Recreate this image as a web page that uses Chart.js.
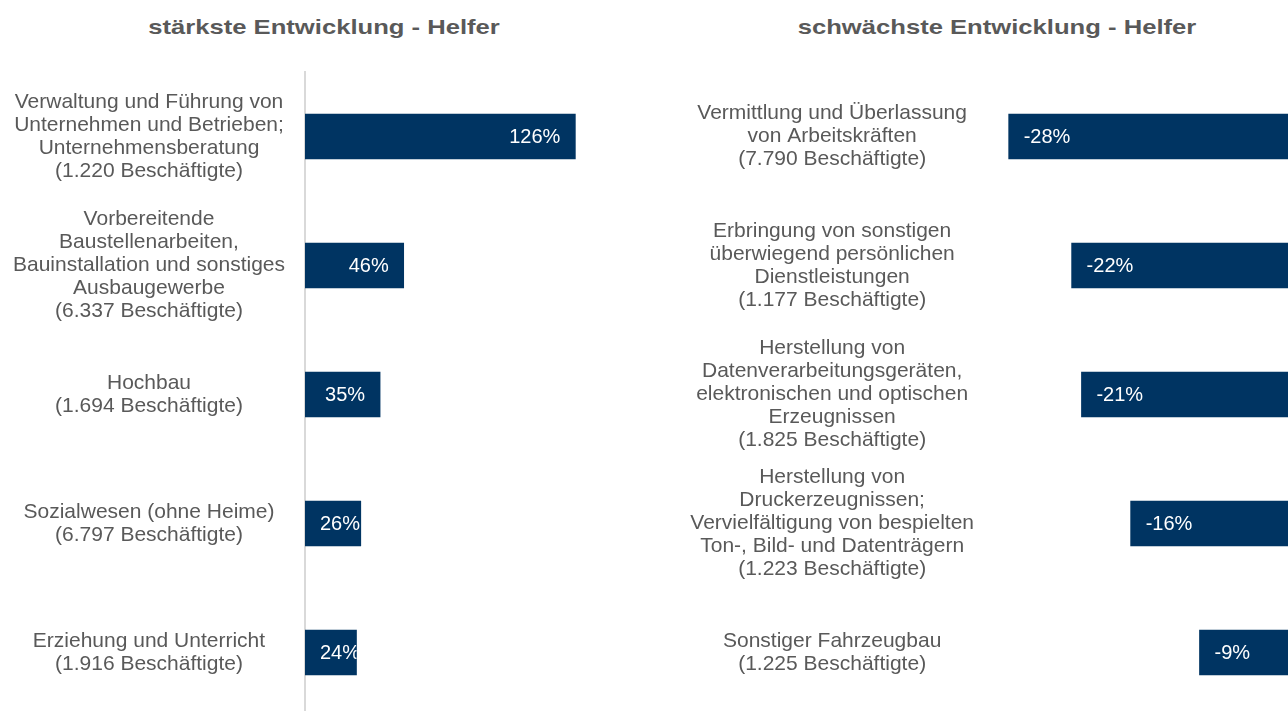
<!DOCTYPE html>
<html>
<head>
<meta charset="utf-8">
<script src="https://cdn.jsdelivr.net/npm/chart.js@4.4.1/dist/chart.umd.min.js"></script>
<style>
  body { margin: 0; background: #fff; width: 1288px; height: 711px; overflow: hidden; position: relative; font-family: "Liberation Sans", Arial, sans-serif; }
  .title { position: absolute; top: 14px; font-weight: bold; font-size: 21px; line-height: 26px; color: #595959; text-align: center; transform: scaleX(1.22); }
  #t1 { left: 124px; width: 400px; }
  #t2 { left: 797px; width: 400px; }
  #c1 { position: absolute; left: 0; top: 1px; }
  #c2 { position: absolute; left: 640px; top: 1px; }
</style>
</head>
<body>
<div class="title" id="t1">stärkste Entwicklung - Helfer</div>
<div class="title" id="t2">schwächste Entwicklung - Helfer</div>
<canvas id="c1" width="640" height="716"></canvas>
<canvas id="c2" width="648" height="716"></canvas>
<script>
const topLabels = [
    ['Verwaltung und Führung von', 'Unternehmen und Betrieben;', 'Unternehmensberatung', '(1.220 Beschäftigte)'],
    ['Vorbereitende', 'Baustellenarbeiten,', 'Bauinstallation und sonstiges', 'Ausbaugewerbe', '(6.337 Beschäftigte)'],
    ['Hochbau', '(1.694 Beschäftigte)'],
    ['Sozialwesen (ohne Heime)', '(6.797 Beschäftigte)'],
    ['Erziehung und Unterricht', '(1.916 Beschäftigte)']
];
const topValues = [126, 46, 35, 26, 24];

const lowLabels = [
    ['Vermittlung und Überlassung', 'von Arbeitskräften', '(7.790 Beschäftigte)'],
    ['Erbringung von sonstigen', 'überwiegend persönlichen', 'Dienstleistungen', '(1.177 Beschäftigte)'],
    ['Herstellung von', 'Datenverarbeitungsgeräten,', 'elektronischen und optischen', 'Erzeugnissen', '(1.825 Beschäftigte)'],
    ['Herstellung von', 'Druckerzeugnissen;', 'Vervielfältigung von bespielten', 'Ton-, Bild- und Datenträgern', '(1.223 Beschäftigte)'],
    ['Sonstiger Fahrzeugbau', '(1.225 Beschäftigte)']
];
const lowValues = [-28.4, -22, -21, -16, -9];

const barColor = '#003462';
const textColor = '#595959';
const font = '"Liberation Sans", Arial, sans-serif';

// value labels inside the bars, clipped to the bar like in the original
const valueLabels = {
    id: 'valueLabels',
    afterDatasetsDraw(chart) {
        const ctx = chart.ctx;
        const meta = chart.getDatasetMeta(0);
        const vals = chart.data.datasets[0].data;
        ctx.save();
        ctx.font = '20px ' + font;
        ctx.fillStyle = '#ffffff';
        ctx.textBaseline = 'middle';
        meta.data.forEach((bar, i) => {
            const left = Math.min(bar.x, bar.base);
            const right = Math.max(bar.x, bar.base);
            const txt = Math.round(vals[i]) + '%';
            const w = ctx.measureText(txt).width;
            let x;
            if (vals[i] >= 0) {
                x = Math.max(left + 15, right - 15 - w);
            } else {
                x = left + 15;
            }
            ctx.save();
            ctx.beginPath();
            ctx.rect(left, bar.y - 30, right - left, 60);
            ctx.clip();
            ctx.textAlign = 'left';
            ctx.fillText(txt, x, bar.y + 1);
            ctx.restore();
        });
        ctx.restore();
    }
};

function makeChart(id, labels, values, xMin, xMax, axisWidth, tickPad, showBorder, padRight) {
    return new Chart(document.getElementById(id), {
        type: 'bar',
        data: {
            labels: labels,
            datasets: [{
                data: values,
                backgroundColor: barColor,
                borderWidth: 0,
                barThickness: 45
            }]
        },
        options: {
            indexAxis: 'y',
            responsive: false,
            animation: false,
            devicePixelRatio: 1,
            layout: { padding: { top: 71, right: padRight, left: 0, bottom: 0 } },
            plugins: {
                legend: { display: false },
                tooltip: { enabled: false }
            },
            scales: {
                x: {
                    display: false,
                    min: xMin,
                    max: xMax
                },
                y: {
                    afterFit(scale) {
                        scale.width = axisWidth;
                        scale.paddingTop = 0;
                        scale.paddingBottom = 0;
                    },
                    grid: { display: false, drawTicks: false },
                    border: { display: showBorder, color: '#d9d9d9', width: 2 },
                    ticks: {
                        color: textColor,
                        font: { family: font, size: 21, lineHeight: '23px' },
                        crossAlign: 'center',
                        padding: tickPad,
                        autoSkip: false
                    }
                }
            }
        },
        plugins: [valueLabels]
    });
}

makeChart('c1', topLabels, topValues, 0, 151, 305, 20, true, 11);
makeChart('c2', lowLabels, lowValues, -30.4, 0, 349, 15, false, 0);
</script>
</body>
</html>
